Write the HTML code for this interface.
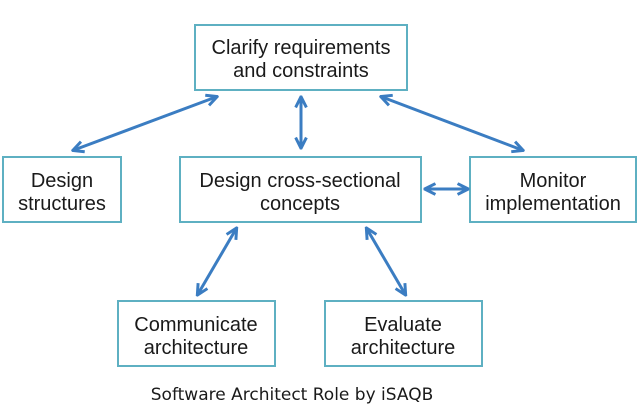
<!DOCTYPE html>
<html><head><meta charset="utf-8"><style>
html,body{margin:0;padding:0;background:#fff;width:640px;height:419px;overflow:hidden}
</style></head><body>
<svg width="640" height="419" viewBox="0 0 640 419" xmlns="http://www.w3.org/2000/svg">
<defs>
<marker id="a" viewBox="0 0 10 10" refX="8" refY="5" markerWidth="4.5" markerHeight="4.5" orient="auto-start-reverse">
<path d="M1,1 L9,5 L1,9" fill="none" stroke="#3b7dc2" stroke-width="2.2"/>
</marker>
</defs>
<g fill="#fff" stroke="#5eb0c2" stroke-width="2">
<rect x="195" y="25" width="212" height="65"/>
<rect x="3" y="157" width="118" height="65"/>
<rect x="180" y="157" width="241" height="65"/>
<rect x="470" y="157" width="166" height="65"/>
<rect x="118" y="301" width="157" height="65"/>
<rect x="325" y="301" width="157" height="65"/>
</g>
<g stroke="#3b7dc2" stroke-width="3" fill="none" marker-start="url(#a)" marker-end="url(#a)">
<line x1="216" y1="97" x2="74" y2="150"/>
<line x1="301" y1="98" x2="301" y2="147"/>
<line x1="382" y1="97" x2="522" y2="150"/>
<line x1="426" y1="189" x2="467" y2="189"/>
<line x1="236" y1="229" x2="198" y2="294"/>
<line x1="367" y1="229" x2="405" y2="294"/>
</g>
<g font-family="Liberation Sans, sans-serif" font-size="20" fill="#1a1a1a" text-anchor="middle">
<text x="301" y="54">Clarify requirements</text>
<text x="301" y="77">and constraints</text>
<text x="62" y="187">Design</text>
<text x="62" y="210">structures</text>
<text x="300" y="187">Design cross-sectional</text>
<text x="300" y="210">concepts</text>
<text x="553" y="187">Monitor</text>
<text x="553" y="210">implementation</text>
<text x="196" y="331">Communicate</text>
<text x="196" y="354">architecture</text>
<text x="403" y="331">Evaluate</text>
<text x="403" y="354">architecture</text>
</g>
<text x="292" y="400" font-family="DejaVu Sans, sans-serif" font-size="17" fill="#1a1a1a" text-anchor="middle">Software Architect Role by iSAQB</text>
</svg>
</body></html>
